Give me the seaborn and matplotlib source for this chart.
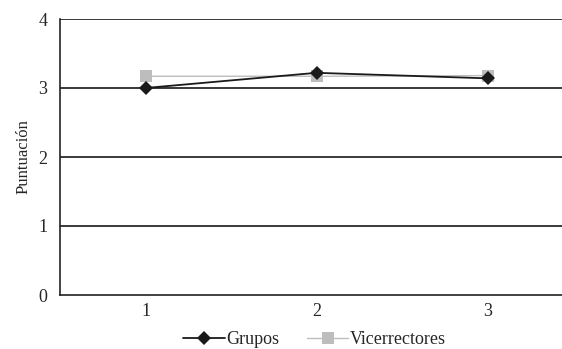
import numpy as np
import pandas as pd
import seaborn as sns
from matplotlib import pyplot as plt

categorias = ["1", "2", "3"]
grupos = [3.00, 3.22, 3.14]
vicerrectores = [3.17, 3.17, 3.18]

sns.set_style("white")
plt.rcParams["font.family"] = ["Liberation Serif", "DejaVu Serif"]

df = pd.DataFrame({
    "pos": list(range(len(categorias))) * 2,
    "Puntuacion": vicerrectores + grupos,
    "serie": ["Vicerrectores"] * 3 + ["Grupos"] * 3,
})

fig = plt.figure(figsize=(5.62, 3.49), dpi=100)
ax = fig.add_axes([60 / 562, 54 / 349, 513 / 562, 276 / 349])

sns.lineplot(data=df, x="pos", y="Puntuacion", hue="serie", style="serie",
             hue_order=["Vicerrectores", "Grupos"],
             palette={"Vicerrectores": "#bdbdbd", "Grupos": "#1a1a1a"},
             markers={"Vicerrectores": "s", "Grupos": "D"},
             dashes=False, markeredgewidth=0, linewidth=1.3, ax=ax)

# marker sizes, thinner grey line
for ln in ax.get_lines():
    if ln.get_marker() == "s":
        ln.set_markersize(8.5)
        ln.set_linewidth(1.0)
    elif ln.get_marker() == "D":
        ln.set_markersize(7)

ax.set_xlim(-0.5, 2.5)
ax.set_ylim(0, 4)
ax.set_yticks([0, 1, 2, 3, 4])
ax.set_yticklabels(["0", "1", "2", "3", "4"], fontsize=13)
ax.set_xticks([0.5, 1.5])
ax.set_xticklabels([])
ax.set_xticks([0, 1, 2], minor=True)
ax.set_xticklabels(categorias, minor=True, fontsize=13)
ax.tick_params(axis="x", which="minor", length=0, pad=6)
ax.tick_params(axis="x", which="major", length=4, width=1, direction="out", color="#222222")
ax.tick_params(axis="y", length=4, width=1, direction="out", color="#222222", pad=5)

for y in [1, 2, 3, 4]:
    ax.axhline(y, color="#2a2a2a", linewidth=1.3, zorder=0)

ax.spines["top"].set_visible(False)
ax.spines["right"].set_visible(False)
ax.spines["left"].set_color("#222222")
ax.spines["bottom"].set_color("#222222")
ax.spines["left"].set_linewidth(1.2)
ax.spines["bottom"].set_linewidth(1.2)

ax.set_xlabel("")
ax.set_ylabel("Puntuación", fontsize=12, labelpad=5)

handles, labels = ax.get_legend_handles_labels()
ax.get_legend().remove()
order = [labels.index("Grupos"), labels.index("Vicerrectores")]
for i in order:
    if labels[i] == "Vicerrectores":
        handles[i].set_markersize(8.5)
        handles[i].set_linewidth(1.0)
    else:
        handles[i].set_markersize(7)
fig.legend([handles[i] for i in order], [labels[i] for i in order],
           loc="lower center", bbox_to_anchor=(0.56, -0.045), ncol=2,
           frameon=False, fontsize=13, handlelength=2.3, handletextpad=0.1,
           columnspacing=1.5)

fig.savefig("out.png", dpi=100)
